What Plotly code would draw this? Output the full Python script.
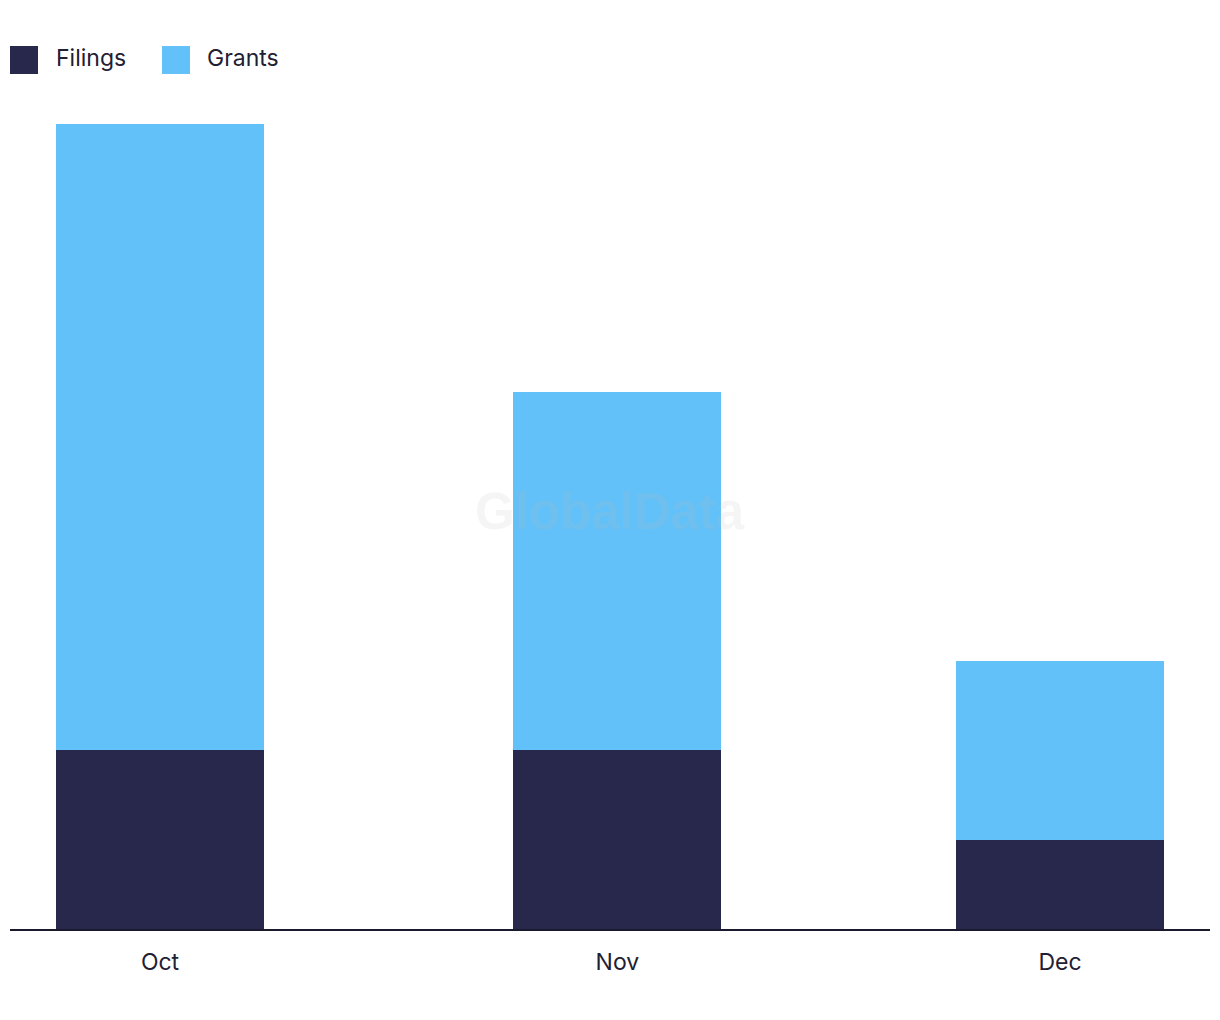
import plotly.graph_objects as go

months = ["2023-10-01", "2023-11-01", "2023-12-01"]
month_labels = ["Oct", "Nov", "Dec"]
filings = [2, 2, 1]
grants = [7, 4, 2]

FILINGS_COLOR = "#27284b"
GRANTS_COLOR = "#62c1f8"
TEXT_COLOR = "#1f2033"
FONT = "Inter, Liberation Sans, sans-serif"

bar_width_ms = 14.1 * 86400000

fig = go.Figure()
fig.add_trace(go.Bar(x=months, y=filings, name="Filings", marker_color=FILINGS_COLOR,
                     marker_line_width=0, width=bar_width_ms))
fig.add_trace(go.Bar(x=months, y=grants, name="Grants", marker_color=GRANTS_COLOR,
                     marker_line_width=0, width=bar_width_ms))

fig.update_layout(
    barmode="stack",
    width=1204, height=1004,
    margin=dict(l=2, r=2, t=92, b=83),
    paper_bgcolor="white", plot_bgcolor="white",
    showlegend=False,
    font=dict(family=FONT, color=TEXT_COLOR, size=23),
)
fig.update_xaxes(
    type="date",
    range=["2023-09-20 20:00", "2023-12-11 04:00"],
    tickvals=months, ticktext=month_labels,
    showgrid=False, zeroline=False,
    showline=True, linecolor="#1a1a2e", linewidth=2,
    ticks="outside", ticklen=11, tickcolor="rgba(0,0,0,0)",
    tickfont=dict(size=23, color=TEXT_COLOR),
)
fig.update_yaxes(range=[0, 9.27], visible=False)

# custom legend
legend_items = [("Filings", FILINGS_COLOR, 10, 54), ("Grants", GRANTS_COLOR, 162, 205)]
for name, color, sx, tx in legend_items:
    fig.add_shape(type="rect", xref="paper", yref="paper",
                  x0=(sx - 10) / 1200, x1=(sx + 28 - 10) / 1200,
                  y0=(929 - 74) / 829, y1=(929 - 46) / 829,
                  fillcolor=color, line_width=0)
    fig.add_annotation(xref="paper", yref="paper", x=(tx - 10) / 1200, y=(929 - 58) / 829,
                       text=name, showarrow=False, xanchor="left", yanchor="middle",
                       font=dict(size=23, color=TEXT_COLOR, family=FONT))

fig.add_annotation(xref="paper", yref="paper", x=(610 - 10) / 1200, y=(929 - 511) / 829,
                   text="<b>GlobalData</b>", showarrow=False,
                   font=dict(size=51, color="rgba(190,190,190,0.15)", family="Liberation Sans, Arial, sans-serif"))

fig.write_html("out.html")
